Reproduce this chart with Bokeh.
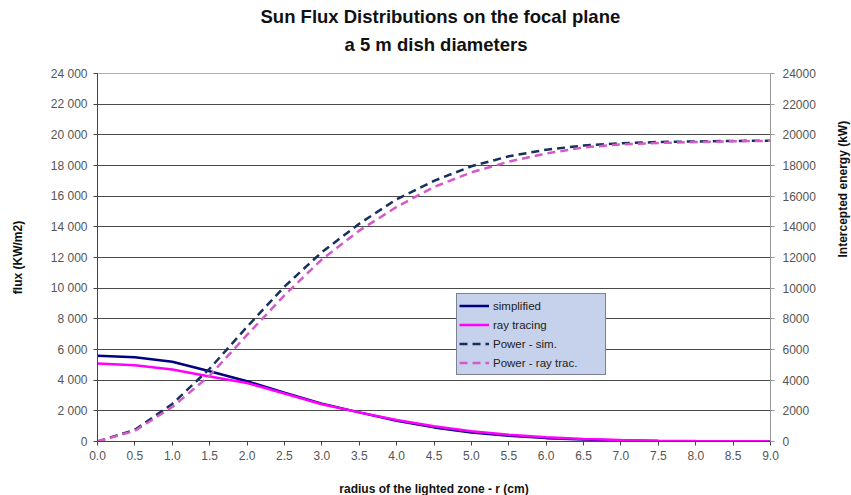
import math
from bokeh.plotting import figure
from bokeh.models import (LinearAxis, Range1d, FixedTicker, NumeralTickFormatter,
                          Legend, LegendItem, Title)
from bokeh.embed import file_html
from bokeh.resources import INLINE

# ---- data ----
radius = [0.0, 0.5, 1.0, 1.5, 2.0, 2.5, 3.0, 3.5, 4.0, 4.5,
          5.0, 5.5, 6.0, 6.5, 7.0, 7.5, 8.0, 8.5, 9.0]
simplified = [5600, 5500, 5200, 4580, 3930, 3180, 2470, 1900, 1350, 920,
              590, 370, 220, 125, 70, 35, 18, 8, 4]
raytracing = [5080, 4980, 4700, 4240, 3820, 3130, 2430, 1900, 1400, 990,
              670, 440, 275, 165, 95, 55, 28, 14, 7]
power_sim = [0, 760, 2450, 4750, 7480, 10100, 12350, 14200, 15800, 17000,
             17950, 18600, 19030, 19300, 19450, 19530, 19570, 19600, 19620]
power_ray = [0, 700, 2250, 4300, 6950, 9530, 11870, 13750, 15300, 16600,
             17550, 18250, 18780, 19180, 19380, 19470, 19530, 19580, 19610]

y_ticks = [0, 2000, 4000, 6000, 8000, 10000, 12000, 14000, 16000, 18000, 20000, 22000, 24000]
left_tick_labels = ["0", "2 000", "4 000", "6 000", "8 000", "10 000", "12 000",
                    "14 000", "16 000", "18 000", "20 000", "22 000", "24 000"]
right_tick_labels = ["0", "2000", "4000", "6000", "8000", "10000", "12000",
                     "14000", "16000", "18000", "20000", "22000", "24000"]
x_ticks = [0.0, 0.5, 1.0, 1.5, 2.0, 2.5, 3.0, 3.5, 4.0, 4.5,
           5.0, 5.5, 6.0, 6.5, 7.0, 7.5, 8.0, 8.5, 9.0]
title_lines = ["Sun Flux Distributions on the focal plane", "a 5 m dish diameters"]

FONT = "Liberation Sans"
FW, FH = 673, 368

p = figure(frame_width=FW, frame_height=FH,
           min_border_left=97, min_border_right=78, min_border_top=73, min_border_bottom=40,
           x_range=Range1d(0, 9), y_range=Range1d(0, 24000),
           output_backend="svg", toolbar_location=None, title=None)
p.extra_y_ranges = {"energy": Range1d(0, 24000)}
p.outline_line_color = "#b0b0b0"
p.background_fill_color = "white"
p.border_fill_color = "white"

# two-line title (second line added first so it sits closer to the plot)
for txt, so, off in zip(reversed(title_lines), [38, -29], [247, 163]):
    p.add_layout(Title(text=txt, align="left", offset=off, text_font=FONT,
                       text_font_size="18.5px", text_font_style="bold",
                       text_color="#111111", standoff=so), "above")

# grid
p.xgrid.visible = False
p.ygrid.ticker = FixedTicker(ticks=y_ticks[1:-1])
p.ygrid.grid_line_color = "#4a4a4a"
p.ygrid.grid_line_width = 1

# left axis
ly = p.yaxis[0]
ly.ticker = FixedTicker(ticks=y_ticks)
ly.major_label_overrides = {t: s for t, s in zip(y_ticks, left_tick_labels)}
ly.axis_label = "flux (KW/m2)"
ly.axis_line_color = "#444444"
ly.major_tick_line_color = "#444444"
ly.major_tick_out = 4
ly.major_tick_in = 0
ly.minor_tick_line_color = None
ly.major_label_text_font = FONT
ly.major_label_text_font_size = "12px"
ly.major_label_text_color = "#555555"
ly.major_label_standoff = 6
ly.axis_label_text_font = FONT
ly.axis_label_text_font_size = "12px"
ly.axis_label_text_font_style = "bold"
ly.axis_label_text_color = "#111111"
ly.axis_label_standoff = 23

# right axis
ry = LinearAxis(y_range_name="energy", ticker=FixedTicker(ticks=y_ticks),
                axis_label="Intercepted energy (kW)")
ry.major_label_overrides = {t: s for t, s in zip(y_ticks, right_tick_labels)}
ry.axis_line_color = "#999999"
ry.major_tick_line_color = "#999999"
ry.major_tick_out = 4
ry.major_tick_in = 0
ry.minor_tick_line_color = None
ry.major_label_text_font = FONT
ry.major_label_text_font_size = "12px"
ry.major_label_text_color = "#555555"
ry.major_label_standoff = 8
ry.axis_label_text_font = FONT
ry.axis_label_text_font_size = "12px"
ry.axis_label_text_font_style = "bold"
ry.axis_label_text_color = "#111111"
ry.axis_label_standoff = 24
ry.axis_label_orientation = math.pi / 2
p.add_layout(ry, "right")

# x axis
xa = p.xaxis[0]
xa.ticker = FixedTicker(ticks=x_ticks)
xa.formatter = NumeralTickFormatter(format="0.0")
xa.axis_label = "radius of the lighted zone - r (cm)"
xa.axis_line_color = "#444444"
xa.major_tick_line_color = "#444444"
xa.major_tick_out = 4
xa.major_tick_in = 0
xa.minor_tick_line_color = None
xa.major_label_text_font = FONT
xa.major_label_text_font_size = "12px"
xa.major_label_text_color = "#555555"
xa.major_label_standoff = 5
xa.axis_label_text_font = FONT
xa.axis_label_text_font_size = "12px"
xa.axis_label_text_font_style = "bold"
xa.axis_label_text_color = "#111111"
xa.axis_label_standoff = 19

# lines
r1 = p.line(radius, simplified, line_color="#000080", line_width=2.5)
r2 = p.line(radius, raytracing, line_color="#ff00ff", line_width=2.5)
r3 = p.line(radius, power_sim, line_color="#17305e", line_width=2.5,
            line_dash="8 5", y_range_name="energy")
r4 = p.line(radius, power_ray, line_color="#d55ac8", line_width=2.5,
            line_dash="8 5", y_range_name="energy")

legend = Legend(items=[LegendItem(label="simplified", renderers=[r1]),
                       LegendItem(label="ray tracing", renderers=[r2]),
                       LegendItem(label="Power - sim.", renderers=[r3]),
                       LegendItem(label="Power - ray trac.", renderers=[r4])],
                location=(359, 66))
legend.background_fill_color = "#c6d1ec"
legend.background_fill_alpha = 1.0
legend.border_line_color = "#333333"
legend.border_line_width = 1
legend.label_text_font = FONT
legend.label_text_font_size = "11.5px"
legend.label_text_color = "#222222"
legend.glyph_width = 30
legend.glyph_height = 19
legend.label_height = 19
legend.label_width = 110
legend.label_standoff = 4
legend.padding = 2
legend.spacing = 0
legend.margin = 0
p.add_layout(legend, "center")

open("out.html", "w").write(file_html(p, INLINE))
